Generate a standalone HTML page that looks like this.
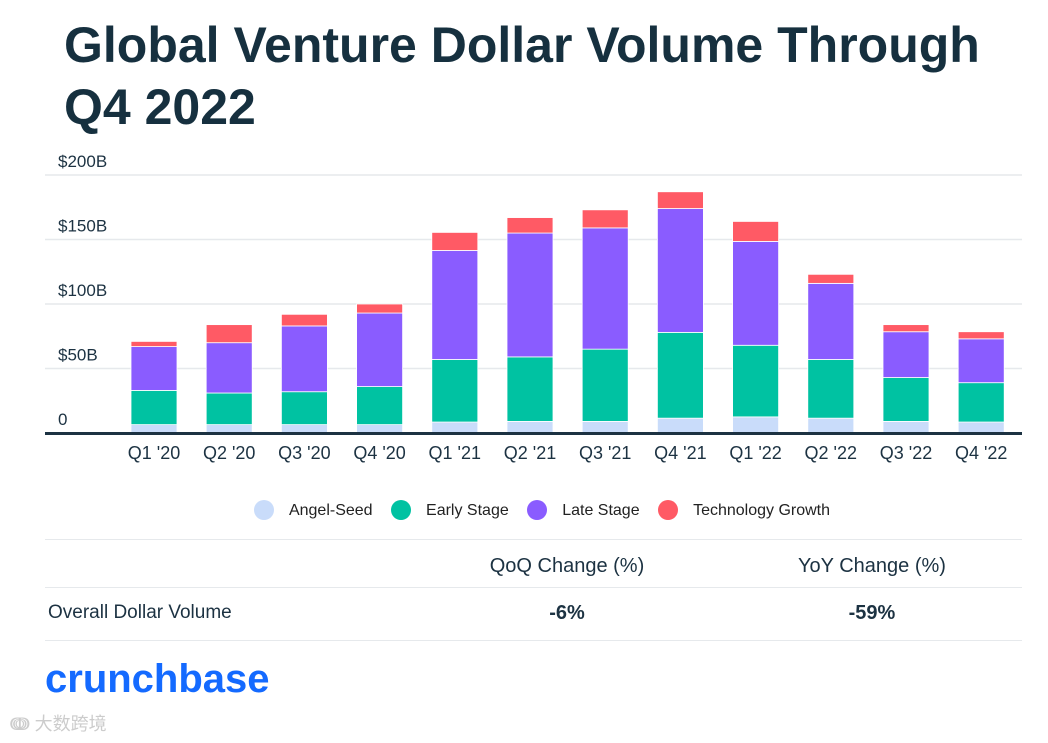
<!DOCTYPE html>
<html><head><meta charset="utf-8">
<style>
body{margin:0;width:1048px;height:743px;background:#fff;font-family:"Liberation Sans",sans-serif;color:#1c3242;overflow:hidden;position:relative}
.t{position:absolute;white-space:nowrap}
</style></head><body>
<div class="t" style="left:64px;top:14px;font-size:50px;font-weight:bold;line-height:62px;color:#16303f;letter-spacing:0px">Global Venture Dollar Volume Through<br>Q4 2022</div>
<svg id="c" width="1048" height="743" style="position:absolute;left:0;top:0"></svg>
<div class="t" style="left:18px;width:1048px;top:500px;text-align:center;font-size:16px;color:#222">
<span><span style="display:inline-block;width:20px;height:20px;border-radius:50%;background:#c9dcfa;vertical-align:-5px;margin-right:15px"></span>Angel-Seed</span>
<span style="margin-left:14px"><span style="display:inline-block;width:20px;height:20px;border-radius:50%;background:#00c2a2;vertical-align:-5px;margin-right:15px"></span>Early Stage</span>
<span style="margin-left:14px"><span style="display:inline-block;width:20px;height:20px;border-radius:50%;background:#8a5cff;vertical-align:-5px;margin-right:15px"></span>Late Stage</span>
<span style="margin-left:14px"><span style="display:inline-block;width:20px;height:20px;border-radius:50%;background:#ff5a65;vertical-align:-5px;margin-right:15px"></span>Technology Growth</span>
</div>
<div style="position:absolute;left:45px;width:977px;top:539px;height:1px;background:#e6e9ec"></div>
<div style="position:absolute;left:45px;width:977px;top:587px;height:1px;background:#e6e9ec"></div>
<div style="position:absolute;left:45px;width:977px;top:640px;height:1px;background:#e6e9ec"></div>
<div class="t" style="left:467px;width:200px;text-align:center;top:555px;font-size:20px">QoQ Change (%)</div>
<div class="t" style="left:772px;width:200px;text-align:center;top:555px;font-size:20px">YoY Change (%)</div>
<div class="t" style="left:48px;top:602px;font-size:19px">Overall Dollar Volume</div>
<div class="t" style="left:467px;width:200px;text-align:center;top:602px;font-size:20px;font-weight:bold">-6%</div>
<div class="t" style="left:772px;width:200px;text-align:center;top:602px;font-size:20px;font-weight:bold">-59%</div>
<div class="t" style="left:45px;top:657px;font-size:40px;font-weight:bold;color:#146aff;letter-spacing:0px">crunchbase</div>
<div class="t" style="left:10px;top:710px;font-size:18px;color:#ccc;font-family:'Liberation Sans','Noto Sans CJK SC',sans-serif">ↈ 大数跨境</div>
<script>
const categories=["Q1 '20","Q2 '20","Q3 '20","Q4 '20","Q1 '21","Q2 '21","Q3 '21","Q4 '21","Q1 '22","Q2 '22","Q3 '22","Q4 '22"];
const angelSeed=[6.5,6.5,6.5,6.5,8.5,9,9,11.5,12.5,11.5,9,8.5];
const earlyStage=[26.5,24.5,25.5,29.5,48.5,50,56,66.5,55.5,45.5,34,30.5];
const lateStage=[34,39,51,57,84.5,96,94,96,80.5,59,35.5,34];
const techGrowth=[4,14,9,7,14,12,14,13,15.5,7,5.5,5.5];
const yTicks=[0,50,100,150,200];
const yTickLabels=["0","$50B","$100B","$150B","$200B"];
const svg=document.getElementById('c');const NS='http://www.w3.org/2000/svg';
const y0=433,pxPer=258/200,x0=154,step=75.2,bw=46;
const y=v=>y0-v*pxPer;const x=i=>x0+i*step;
function mk(t,a){const e=document.createElementNS(NS,t);for(const k in a)e.setAttribute(k,a[k]);svg.appendChild(e);return e;}
yTicks.forEach((v,i)=>{
 if(v>0){const g=mk('line',{x1:45,x2:1022,y1:y(v),y2:y(v),stroke:'#e6e9ec','stroke-width':1.5});
 
 }
 const t=mk('text',{x:58,y:y(v)-8,'font-size':17,fill:'#1c3242','font-family':'Liberation Sans, sans-serif'});t.textContent=yTickLabels[i];
 
 
});
const series=[[angelSeed,'#c9dcfa','angel'],[earlyStage,'#00c2a2','early'],[lateStage,'#8a5cff','late'],[techGrowth,'#ff5a65','tech']];
categories.forEach((c,i)=>{
 let acc=0;
 series.forEach(([arr,col,nm])=>{
  const r=mk('rect',{x:x(i)-bw/2,y:y(acc+arr[i]),width:bw,height:arr[i]*pxPer,fill:col,stroke:'#fff','stroke-width':0.8});
  
  
  acc+=arr[i];
 });
 const t=mk('text',{x:x(i),y:459,'font-size':18,fill:'#1c3242','text-anchor':'middle','font-family':'Liberation Sans, sans-serif'});t.textContent=c;
 
 
});
const ax=mk('line',{x1:45,x2:1022,y1:y0+0.5,y2:y0+0.5,stroke:'#1c3242','stroke-width':3});


</script>
</body></html>
